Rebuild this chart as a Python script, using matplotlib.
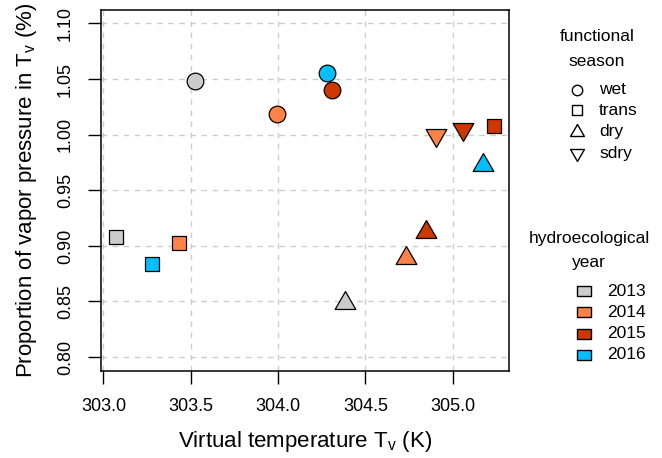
import numpy as np
import matplotlib
matplotlib.use('Agg')
import matplotlib.pyplot as plt

plt.rcParams['font.family'] = ['Liberation Sans', 'DejaVu Sans']
plt.rcParams['mathtext.fontset'] = 'custom'
plt.rcParams['mathtext.rm'] = 'Liberation Sans'

# virtual temperature (K) and vapor pressure share (%) per season and year
years = ['2013', '2014', '2015', '2016']
year_colors = {'2013': '#cccccc', '2014': '#ff8247', '2015': '#cd3700', '2016': '#00bfff'}
seasons = ['wet', 'trans', 'dry', 'sdry']

wet_x = [303.526, 303.995, 304.310, 304.282]
wet_y = [1.048, 1.0183, 1.0402, 1.0558]
trans_x = [303.072, 303.433, 305.234, 303.278]
trans_y = [0.9077, 0.9029, 1.0078, 0.8837]
dry_x = [304.381, 304.730, 304.848, 305.173]
dry_y = [0.8483, 0.8889, 0.9121, 0.9725]
sdry_years = ['2014', '2015']
sdry_x = [304.904, 305.058]
sdry_y = [0.9998, 1.005]

xticks = [303.0, 303.5, 304.0, 304.5, 305.0]
yticks = [0.80, 0.85, 0.90, 0.95, 1.00, 1.05, 1.10]

# equilateral triangles centred on their centroid (like R pch 24/25)
tri_up = [(0, 0.577), (-0.5, -0.289), (0.5, -0.289), (0, 0.577)]
tri_dn = [(x, -y) for x, y in tri_up]
# flat box used for the year key
box = [(-0.7, -0.465), (0.7, -0.465), (0.7, 0.465), (-0.7, 0.465), (-0.7, -0.465)]
season_markers = ['o', 's', tri_up, tri_dn]
season_ms = [7.5, 7.2, 11.5, 11.5]

W, H = 662, 458
fig = plt.figure(figsize=(W/100, H/100), dpi=100)
ax = fig.add_axes([101/W, 1-371/H, 408/W, 361/H])

for xv in xticks:
    ax.axvline(xv, color='#cccccc', lw=1, ls=(0, (4, 4)), zorder=0)
for yv in yticks:
    ax.axhline(yv, color='#cccccc', lw=1, ls=(0, (4, 4)), zorder=0)

kw = dict(linestyle='none', markeredgecolor='black', markeredgewidth=0.9, zorder=3)
for i, yr in enumerate(years):
    c = year_colors[yr]
    ax.plot(wet_x[i], wet_y[i], marker='o', ms=12, markerfacecolor=c, **kw)
    ax.plot(trans_x[i], trans_y[i], marker='s', ms=9.6, markerfacecolor=c, **kw)
    ax.plot(dry_x[i], dry_y[i], marker=tri_up, ms=17.2, markerfacecolor=c, **kw)
for i, yr in enumerate(sdry_years):
    c = year_colors[yr]
    ax.plot(sdry_x[i], sdry_y[i], marker=tri_dn, ms=17.2, markerfacecolor=c, **kw)

ax.set_xlim(302.986, 305.322)
ax.set_ylim(0.7875, 1.1121)
ax.set_xticks(xticks)
ax.set_xticklabels(['%.1f' % v for v in xticks])
ax.set_yticks(yticks)
ax.set_yticklabels(['%.2f' % v for v in yticks], rotation=90, va='center')
ax.tick_params(direction='out', length=9.5, width=1, labelsize=13, pad=10)
for s in ax.spines.values():
    s.set_linewidth(1.1)

ax.set_xlabel(r'Virtual temperature T$_{\mathregular{v}}$ (K)', fontsize=16, labelpad=10)
ax.set_ylabel(r'Proportion of vapor pressure in T$_{\mathregular{v}}$ (%)', fontsize=16, labelpad=13)

# keys in the right margin, laid out in pixel coordinates
lax = fig.add_axes([0, 0, 1, 1])
lax.set_xlim(0, W)
lax.set_ylim(H, 0)
lax.axis('off')

fs = 12.5
lax.text(597, 36.7, 'functional', ha='center', va='center', fontsize=fs)
lax.text(597, 61.7, 'season', ha='center', va='center', fontsize=fs)
season_rows = [90, 110.2, 131.7, 153.3]
for lab, m, ms, yy in zip(seasons, season_markers, season_ms, season_rows):
    lax.plot(577, yy, marker=m, ms=ms, mfc='none', mec='black', mew=1.0, ls='none')
    lax.text(599, yy, lab, ha='left', va='center', fontsize=fs)

lax.text(589, 238.3, 'hydroecological', ha='center', va='center', fontsize=fs)
lax.text(589, 262.7, 'year', ha='center', va='center', fontsize=fs)
for i, yr in enumerate(years):
    yy = 291 + 21.3 * i
    lax.plot(583.7, yy, marker=box, ms=10.5, mfc=year_colors[yr], mec='black', mew=1.0, ls='none')
    lax.text(607, yy, yr, ha='left', va='center', fontsize=fs)

fig.savefig('out.png', dpi=100)
